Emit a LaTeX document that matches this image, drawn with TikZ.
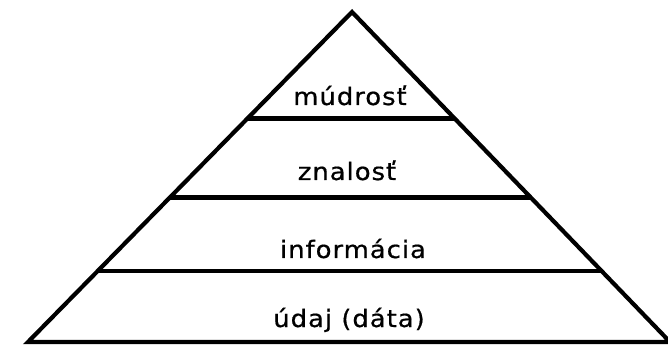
\documentclass[tikz,border=0pt]{standalone}
\usepackage{fontspec}
\usetikzlibrary{calc, positioning}
\newfontfamily\pyrfont[LetterSpace=4, FakeStretch=1.08, FakeBold=0.6]{DejaVu Sans}
\tikzset{
  pyredge/.style={line width=4.2pt, black, line join=miter},
  pyrline/.style={line width=4.2pt, black},
  layerlabel/.style={anchor=base, inner sep=0pt, font=\pyrfont\fontsize{24}{28}\selectfont}
}

\begin{document}
\begin{tikzpicture}[x=1pt, y=1pt]
    \useasboundingbox (0,0) rectangle (668,345);
    \coordinate (apex) at (352,333);
    \coordinate (bl) at (28,3);
    \coordinate (br) at (670,3);

    % outline
    \draw[pyredge] (bl) -- (apex) -- (br) -- cycle;

    % layer borders
    \draw[pyrline] ($(apex)!0.323!(bl)$) -- ($(apex)!0.323!(br)$);
    \draw[pyrline] ($(apex)!0.562!(bl)$) -- ($(apex)!0.562!(br)$);
    \draw[pyrline] ($(apex)!0.785!(bl)$) -- ($(apex)!0.785!(br)$);

    % labels
    \node (wisdom) [layerlabel] at (350,240) {múdrosť};
    \node (knowledge) [layerlabel] at (347,165) {znalosť};
    \node (info) [layerlabel] at (353,87) {informácia};
    \node (data) [layerlabel] at (349,18) {údaj (dáta)};
\end{tikzpicture}
\end{document}
